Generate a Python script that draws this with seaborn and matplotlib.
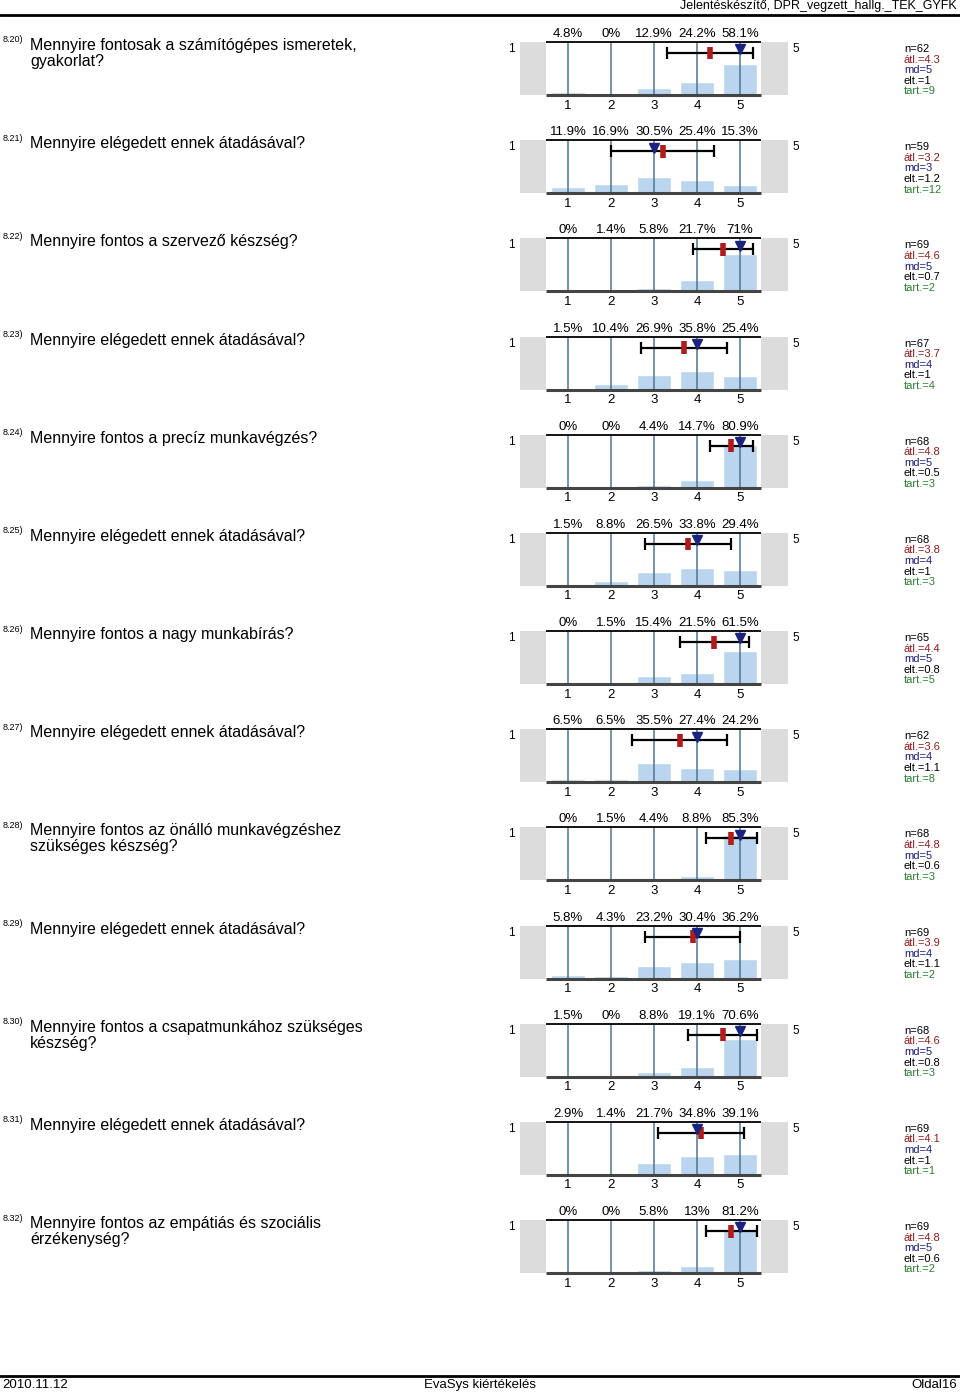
import matplotlib
matplotlib.use("Agg")
import matplotlib.pyplot as plt
from matplotlib.lines import Line2D
import seaborn as sns
import pandas as pd

sns.set_theme(style="white")
plt.rcParams['font.family'] = ['Liberation Sans', 'DejaVu Sans']
plt.rcParams['text.color'] = 'black'

# ---- data ----
numbers = ["8.20)", "8.21)", "8.22)", "8.23)", "8.24)", "8.25)", "8.26)",
           "8.27)", "8.28)", "8.29)", "8.30)", "8.31)", "8.32)"]
questions = [
    "Mennyire fontosak a számítógépes ismeretek,\ngyakorlat?",
    "Mennyire elégedett ennek átadásával?",
    "Mennyire fontos a szervező készség?",
    "Mennyire elégedett ennek átadásával?",
    "Mennyire fontos a precíz munkavégzés?",
    "Mennyire elégedett ennek átadásával?",
    "Mennyire fontos a nagy munkabírás?",
    "Mennyire elégedett ennek átadásával?",
    "Mennyire fontos az önálló munkavégzéshez\nszükséges készség?",
    "Mennyire elégedett ennek átadásával?",
    "Mennyire fontos a csapatmunkához szükséges\nkészség?",
    "Mennyire elégedett ennek átadásával?",
    "Mennyire fontos az empátiás és szociális\nérzékenység?",
]
categories = [1, 2, 3, 4, 5]
percents = [
    [4.8, 0, 12.9, 24.2, 58.1],
    [11.9, 16.9, 30.5, 25.4, 15.3],
    [0, 1.4, 5.8, 21.7, 71],
    [1.5, 10.4, 26.9, 35.8, 25.4],
    [0, 0, 4.4, 14.7, 80.9],
    [1.5, 8.8, 26.5, 33.8, 29.4],
    [0, 1.5, 15.4, 21.5, 61.5],
    [6.5, 6.5, 35.5, 27.4, 24.2],
    [0, 1.5, 4.4, 8.8, 85.3],
    [5.8, 4.3, 23.2, 30.4, 36.2],
    [1.5, 0, 8.8, 19.1, 70.6],
    [2.9, 1.4, 21.7, 34.8, 39.1],
    [0, 0, 5.8, 13, 81.2],
]
n_vals = [62, 59, 69, 67, 68, 68, 65, 62, 68, 69, 68, 69, 69]
means = [4.3, 3.2, 4.6, 3.7, 4.8, 3.8, 4.4, 3.6, 4.8, 3.9, 4.6, 4.1, 4.8]
medians = [5, 3, 5, 4, 5, 4, 5, 4, 5, 4, 5, 4, 5]
sds = [1, 1.2, 0.7, 1, 0.5, 1, 0.8, 1.1, 0.6, 1.1, 0.8, 1, 0.6]
abstentions = [9, 12, 2, 4, 3, 3, 5, 8, 3, 2, 3, 1, 2]
scale_left = "1"
scale_right = "5"
header_text = "Jelentéskészítő, DPR_vegzett_hallg._TEK_GYFK"
footer_left = "2010.11.12"
footer_mid = "EvaSys kiértékelés"
footer_right = "Oldal16"

# ---- layout ----
W, H = 960, 1395
fig = plt.figure(figsize=(W / 100, H / 100), dpi=100)


def fx(px):
    return px / W


def fy(py):
    return 1 - py / H


bar_color = "#bad5ed"
vline_color = "#4d7591"
gray = "#dcdcdc"

for i in range(len(questions)):
    top = 42 + 98.17 * i
    ax = fig.add_axes([fx(520), fy(top + 53), fx(788 - 520), 53 / H])
    ax.set_xlim(-0.116, 6.117)
    ax.set_ylim(0, 100)
    ax.axis("off")
    ax.axvspan(-0.116, 0.49, color=gray, lw=0, zorder=0)
    ax.axvspan(5.49, 6.117, color=gray, lw=0, zorder=0)

    df = pd.DataFrame({"cat": categories, "pct": percents[i]})
    sns.barplot(data=df, x="cat", y="pct", native_scale=True, width=0.8,
                color=bar_color, saturation=1, ax=ax, zorder=1)
    ax.set_xlim(-0.116, 6.117)
    ax.set_ylim(0, 100)
    ax.axis("off")

    for c in categories:
        ax.plot([c, c], [0, 100], color=vline_color, lw=1.1, zorder=2)
    ax.plot([0.49, 5.49], [100, 100], color="black", lw=1.3, zorder=3,
            clip_on=False, solid_capstyle="butt")
    ax.plot([0.49, 5.49], [0, 0], color="#444444", lw=2.2, zorder=3,
            clip_on=False, solid_capstyle="butt")

    # error bar (mean ± sd), mean marker, median marker
    ax.errorbar([means[i]], [79], xerr=[[sds[i]], [sds[i]]], fmt="none",
                ecolor="black", elinewidth=1.6, capsize=4.5, capthick=1.6,
                zorder=4)
    ax.plot([means[i], means[i]], [67, 91], color="#b01c1c", lw=4,
            solid_capstyle="butt", zorder=5)
    ax.plot([medians[i]], [86], marker="v", color="#1a237e", markersize=7,
            zorder=6, linestyle="none")

    for c, v in zip(categories, percents[i]):
        ax.text(c, 115, f"{v:g}%", ha="center", va="center", fontsize=9.5,
                color="black", clip_on=False)
        ax.text(c, -20, str(c), ha="center", va="center", fontsize=9.5,
                color="black", clip_on=False)

    fig.text(fx(511), fy(top + 7), scale_left, ha="center", va="center",
             fontsize=8.5)
    fig.text(fx(796), fy(top + 7), scale_right, ha="center", va="center",
             fontsize=8.5)

    # question
    fig.text(fx(3), fy(top - 2), numbers[i], ha="left", va="center",
             fontsize=6.5)
    fig.text(fx(30), fy(top - 4), questions[i], ha="left", va="top",
             fontsize=11.5, linespacing=1.08)

    # stats
    stats = [(f"n={n_vals[i]}", "black"),
             (f"átl.={means[i]:g}", "#8b1c1c"),
             (f"md={medians[i]}", "#1c1c7a"),
             (f"elt.={sds[i]:g}", "black"),
             (f"tart.={abstentions[i]}", "#2e7d32")]
    for k, (s, col) in enumerate(stats):
        fig.text(fx(904), fy(top + 7 + 10.6 * k), s, ha="left", va="center",
                 fontsize=8, color=col)

# header / footer
fig.text(fx(957), fy(6), header_text, ha="right", va="center", fontsize=9)
fig.add_artist(Line2D([0, 1], [fy(14.5), fy(14.5)], color="black", lw=2))
fig.add_artist(Line2D([0, 1], [fy(1376), fy(1376)], color="black", lw=2))
narrow = ["Liberation Sans Narrow", "Liberation Sans", "DejaVu Sans"]
fig.text(fx(2), fy(1385), footer_left, ha="left", va="center", fontsize=9.5,
         family=narrow)
fig.text(fx(480), fy(1385), footer_mid, ha="center", va="center",
         fontsize=9.5, family=narrow)
fig.text(fx(957), fy(1385), footer_right, ha="right", va="center",
         fontsize=9.5, family=narrow)

fig.savefig("out.png", dpi=100)
